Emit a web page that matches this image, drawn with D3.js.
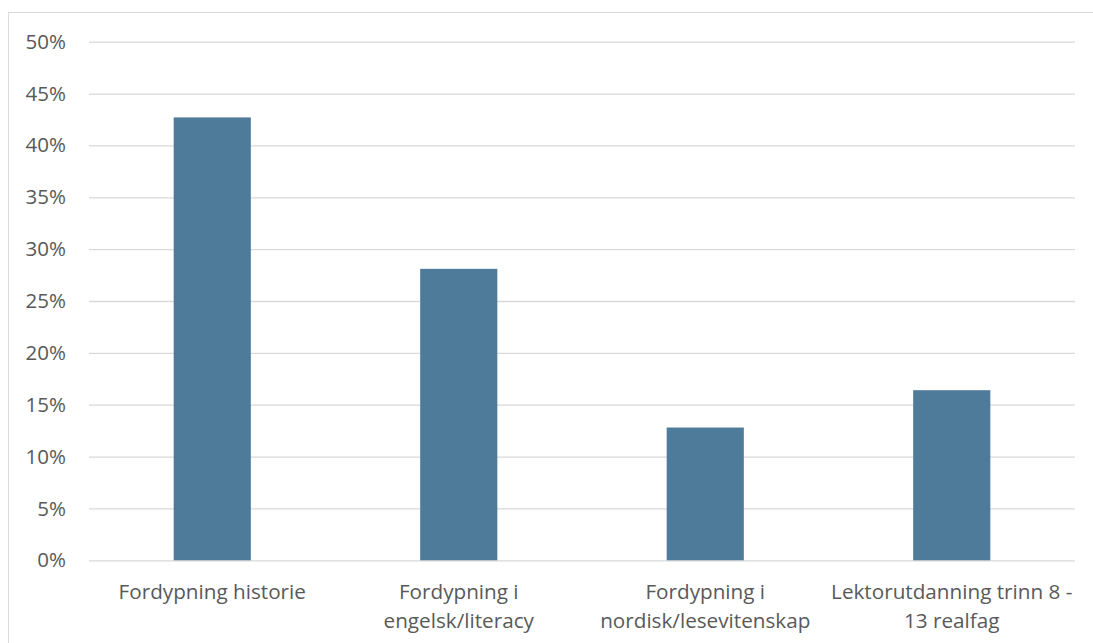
<!DOCTYPE html>
<html><head><meta charset="utf-8">
<script src="https://cdn.jsdelivr.net/npm/d3@7"></script>
<style>body{margin:0;background:#fff}svg{display:block}</style>
</head><body>
<svg id="c" width="1093" height="643"></svg>
<script>
const categories = [["Fordypning historie"],["Fordypning i","engelsk/literacy"],["Fordypning i","nordisk/lesevitenskap"],["Lektorutdanning trinn 8 -","13 realfag"]];
const values = [0.427, 0.281, 0.128, 0.164];
const yTicks = [0,0.05,0.1,0.15,0.2,0.25,0.3,0.35,0.4,0.45,0.5];

const svg = d3.select("#c");
const font = "'Open Sans', sans-serif";
svg.append("rect").attr("x",8.5).attr("y",12.5).attr("width",1200).attr("height",700)
  .attr("fill","#fff").attr("stroke","#d9d9d9");

const x = d3.scaleBand().domain(d3.range(values.length)).range([89,1075]).paddingInner(0.687).paddingOuter(0.3435);
const y = d3.scaleLinear().domain([0,0.5]).range([560.3,41.7]);

const yAxis = svg.append("g").attr("transform","translate(89,0)")
  .call(d3.axisLeft(y).tickValues(yTicks).tickFormat(d3.format(".0%")).tickSize(-986).tickPadding(23));
yAxis.select(".domain").remove();
yAxis.selectAll("line").attr("stroke","#d9d9d9").attr("stroke-width",1.3);
yAxis.selectAll("text").attr("fill","#595959").style("font-family",font).style("font-size","20.5px");

svg.append("g").selectAll("rect").data(values).join("rect")
  .attr("x",(d,i)=>x(i)).attr("width",x.bandwidth())
  .attr("y",d=>y(d)).attr("height",d=>y(0)-y(d)).attr("fill","#4e7b9a");

const lab = svg.append("g").selectAll("text").data(categories).join("text")
  .attr("text-anchor","middle").attr("fill","#595959").style("font-family",font).style("font-size","20.7px")
  .attr("x",(d,i)=>x(i)+x.bandwidth()/2).attr("y",599);
lab.selectAll("tspan").data(d=>d).join("tspan")
  .attr("x",function(){return this.parentNode.getAttribute("x");})
  .attr("dy",(d,i)=>i?29:0).text(d=>d);
</script>
</body></html>
